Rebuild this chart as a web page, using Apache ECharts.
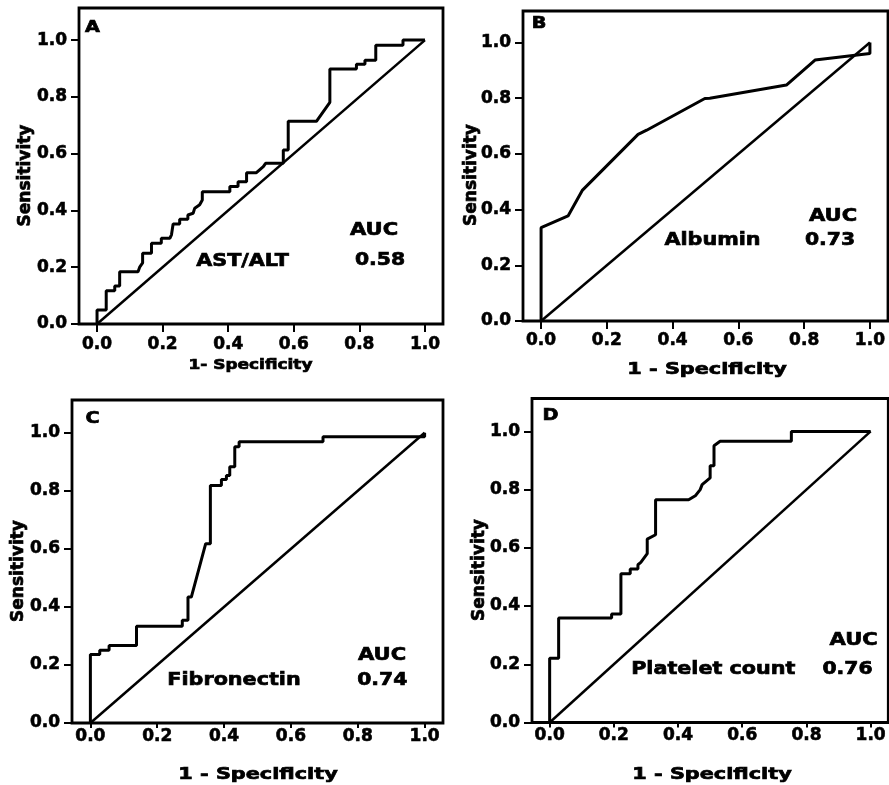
<!DOCTYPE html>
<html><head><meta charset="utf-8">
<script src="https://cdn.jsdelivr.net/npm/echarts@6/dist/echarts.min.js"></script>
<style>html,body{margin:0;padding:0;background:#fff}#c{width:889px;height:785px}</style>
</head><body><div id="c"></div>
<script>
// ---------- data ----------
const tickValues = [0, 0.2, 0.4, 0.6, 0.8, 1.0];
const diagonalX = [0, 1];
const diagonalY = [0, 1];

// Panel A: AST/ALT
const astAltX = [0,0,0.028,0.028,0.054,0.054,0.069,0.069,0.125,0.13,0.139,0.139,0.166,0.166,0.196,0.196,0.222,0.227,0.232,0.252,0.252,0.277,0.277,0.293,0.298,0.313,0.321,0.321,0.405,0.405,0.43,0.43,0.456,0.456,0.486,0.507,0.514,0.568,0.568,0.583,0.583,0.669,0.71,0.71,0.791,0.791,0.817,0.817,0.85,0.85,0.933,0.933,1.0];
const astAltY = [0,0.049,0.049,0.117,0.117,0.134,0.134,0.184,0.184,0.20,0.215,0.249,0.249,0.284,0.284,0.302,0.302,0.314,0.352,0.352,0.369,0.369,0.384,0.39,0.408,0.42,0.437,0.466,0.466,0.484,0.484,0.501,0.501,0.533,0.533,0.554,0.566,0.566,0.613,0.613,0.714,0.714,0.781,0.898,0.898,0.915,0.915,0.929,0.929,0.982,0.982,1.0,1.0];

// Panel B: Albumin
const albuminX = [0,0,0.082,0.126,0.295,0.321,0.498,0.513,0.746,0.833,1.0,1.0];
const albuminY = [0,0.335,0.377,0.47,0.67,0.685,0.799,0.80,0.847,0.937,0.96,1.0];

// Panel C: Fibronectin
const fibronectinX = [0,0,0.028,0.028,0.056,0.056,0.138,0.138,0.275,0.275,0.292,0.292,0.302,0.345,0.359,0.359,0.392,0.392,0.407,0.407,0.417,0.417,0.432,0.432,0.445,0.445,0.696,0.696,1.0,1.0];
const fibronectinY = [0,0.236,0.236,0.251,0.251,0.267,0.267,0.333,0.333,0.354,0.354,0.434,0.434,0.618,0.618,0.818,0.818,0.839,0.839,0.853,0.853,0.883,0.883,0.952,0.952,0.969,0.969,0.986,0.986,1.0];

// Panel D: Platelet count
const plateletX = [0,0,0.028,0.028,0.193,0.193,0.222,0.222,0.251,0.251,0.275,0.275,0.284,0.304,0.304,0.33,0.33,0.433,0.455,0.469,0.475,0.5,0.5,0.512,0.512,0.531,0.753,0.753,1.0];
const plateletY = [0,0.221,0.221,0.359,0.359,0.373,0.373,0.511,0.511,0.527,0.527,0.542,0.55,0.58,0.63,0.645,0.765,0.765,0.78,0.80,0.817,0.84,0.882,0.882,0.951,0.966,0.966,1.0,1.0];

const panelLetters = ['A', 'B', 'C', 'D'];
const markerNames = ['AST/ALT', 'Albumin', 'Fibronectin', 'Platelet count'];
const aucValues = ['0.58', '0.73', '0.74', '0.76'];
const xTitles = ['1- Specificity', '1 - Specificity', '1 - Specificity', '1 - Specificity'];
const yTitle = 'Sensitivity';

// ---------- layout ----------
const grids = [
  {left: 79, top: 8, width: 364, height: 316},
  {left: 523, top: 11, width: 365, height: 310},
  {left: 72, top: 400, width: 371, height: 323},
  {left: 532, top: 398.5, width: 359, height: 324}
];
const tickLen = [8, 8, 5, 5];
const xLabelMargin = [12, 11, 5, 5];
const curveXs = [astAltX, albuminX, fibronectinX, plateletX];
const curveYs = [astAltY, albuminY, fibronectinY, plateletY];

// text positions (pixels): letter, AUC, value, name, xTitle, yTitle
const textPos = [
  {letter:[92.5,27.5], auc:[374,230], val:[380,260], name:[242.5,261.7], xt:[250.5,365], xtSize:14, xtScale:1.21, yt:[26,175.5]},
  {letter:[539,24], auc:[833,216.7], val:[830,240.8], name:[712.5,240.8], xt:[707,370], xtSize:16, xtScale:1.3, yt:[471.5,175]},
  {letter:[92.5,419], auc:[382,655], val:[382.3,680], name:[234,680], xt:[258,775], xtSize:16, xtScale:1.3, yt:[18.3,571]},
  {letter:[550.5,416], auc:[853.7,640], val:[847.5,669.5], name:[713.3,669.5], xt:[712,775], xtSize:16, xtScale:1.3, yt:[480,570]}
];

const FONT = '"DejaVu Sans", "Liberation Sans", sans-serif';
function txt(p, text, size, sx, rot) {
  return {
    type: 'text', x: p[0], y: p[1], scaleX: sx || 1, rotation: rot || 0, silent: true,
    style: {text: text, font: 'bold ' + size + 'px ' + FONT, fill: '#000', stroke: '#000', lineWidth: 0.7,
      align: 'center', verticalAlign: 'middle', textAlign: 'center', textVerticalAlign: 'middle'}
  };
}

const labelStyle = {color: '#000', fontFamily: FONT, fontWeight: 'bold', fontSize: 17,
  textBorderColor: '#000', textBorderWidth: 0.6, customValues: tickValues, formatter: v => Number(v).toFixed(1)};

const option = {
  backgroundColor: '#fff',
  animation: false,
  grid: grids.map(g => Object.assign({show: true, borderColor: '#000', borderWidth: 2.8, backgroundColor: 'transparent', containLabel: false}, g)),
  xAxis: grids.map((g, i) => ({
    type: 'value', gridIndex: i, min: -0.055, max: 1.055, position: 'bottom',
    splitLine: {show: false},
    axisLine: {show: false, onZero: false},
    axisTick: {show: true, inside: false, length: tickLen[i], lineStyle: {color: '#000', width: 2}, customValues: tickValues},
    axisLabel: Object.assign({show: true, margin: xLabelMargin[i]}, labelStyle)
  })),
  yAxis: grids.map((g, i) => ({
    type: 'value', gridIndex: i, min: 0, max: 1.113, position: 'left',
    splitLine: {show: false},
    axisLine: {show: false, onZero: false},
    axisTick: {show: true, inside: false, length: 8, lineStyle: {color: '#000', width: 2}, customValues: tickValues},
    axisLabel: Object.assign({show: true, margin: 12, padding: [6, 0, 0, 0]}, labelStyle)
  })),
  series: [],
  graphic: {elements: []}
};

for (let i = 0; i < 4; i++) {
  option.series.push({
    type: 'line', xAxisIndex: i, yAxisIndex: i, symbol: 'none', silent: true,
    data: diagonalX.map((x, k) => [x, diagonalY[k]]),
    lineStyle: {color: '#000', width: 2.5}
  });
  option.series.push({
    type: 'line', xAxisIndex: i, yAxisIndex: i, symbol: 'none', silent: true,
    data: curveXs[i].map((x, k) => [x, curveYs[i][k]]),
    lineStyle: {color: '#000', width: 3}
  });
  const t = textPos[i];
  option.graphic.elements.push(
    txt(t.letter, panelLetters[i], 16, 1.2),
    txt(t.auc, 'AUC', 18, 1.17),
    txt(t.val, aucValues[i], 18, 1.13),
    txt(t.name, markerNames[i], 18, 1.15),
    txt(t.xt, xTitles[i], t.xtSize, t.xtScale),
    txt(t.yt, yTitle, 17, 1, Math.PI / 2)
  );
}

const chart = echarts.init(document.getElementById('c'), null, {renderer: 'canvas'});
chart.setOption(option);
</script></body></html>
